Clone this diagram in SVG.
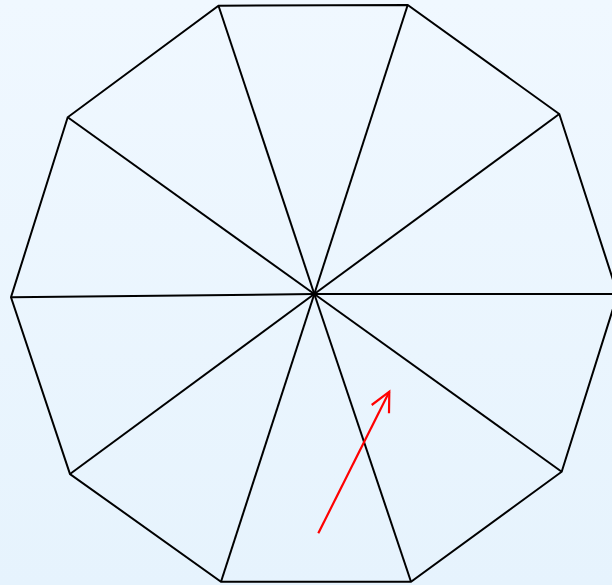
<svg xmlns="http://www.w3.org/2000/svg" width="612" height="585" viewBox="0 0 612 585">
  <defs>
    <linearGradient id="bg" x1="0" y1="0" x2="0" y2="1">
      <stop offset="0" stop-color="#f0f8ff"/>
      <stop offset="1" stop-color="#e6f3fd"/>
    </linearGradient>
    <style>
      .edge{stroke:#000;stroke-width:2;fill:none;stroke-linejoin:miter}
      .arrow{stroke:#ff0000;stroke-width:2.2;fill:none}
    </style>
  </defs>
  <rect width="612" height="585" fill="url(#bg)"/>
  <g id="decagon">
    <polygon class="edge" points="218.5,5.7 407.7,5 559.3,114 617.6,294 561.7,471.7 411,581.7 221,581.7 70,474 11,297.3 67.7,117.3"/>
  </g>
  <g id="connectors">
    <line class="edge" x1="314.3" y1="294" x2="218.5" y2="5.7"/>
    <line class="edge" x1="314.3" y1="294" x2="407.7" y2="5"/>
    <line class="edge" x1="314.3" y1="294" x2="559.3" y2="114"/>
    <line class="edge" x1="314.3" y1="294" x2="617.6" y2="294"/>
    <line class="edge" x1="314.3" y1="294" x2="561.7" y2="471.7"/>
    <line class="edge" x1="314.3" y1="294" x2="411" y2="581.7"/>
    <line class="edge" x1="314.3" y1="294" x2="221" y2="581.7"/>
    <line class="edge" x1="314.3" y1="294" x2="70" y2="474"/>
    <line class="edge" x1="314.3" y1="294" x2="11" y2="297.3"/>
    <line class="edge" x1="314.3" y1="294" x2="67.7" y2="117.3"/>
  </g>
  <g id="arrow">
    <line class="arrow" x1="318.3" y1="533.3" x2="389.3" y2="391.7"/>
    <polyline class="arrow" points="371.7,405 389.3,391.7 389,413.3"/>
  </g>
</svg>
